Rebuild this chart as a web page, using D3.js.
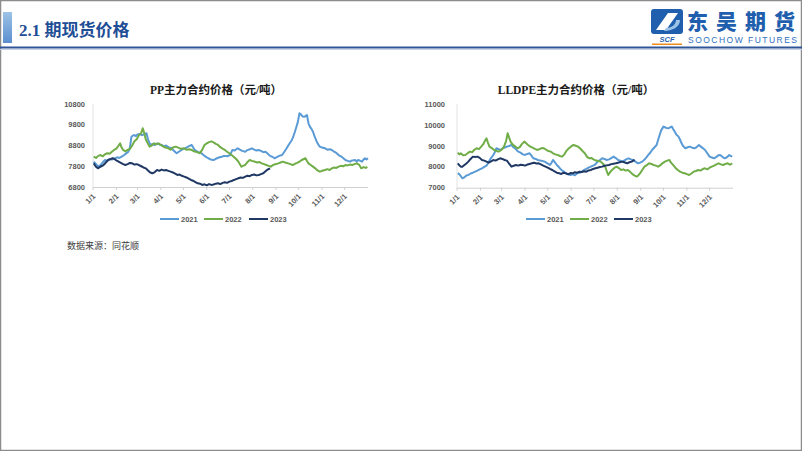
<!DOCTYPE html>
<html><head><meta charset="utf-8">
<script src="https://cdn.jsdelivr.net/npm/d3@7/dist/d3.min.js"></script>
<style>body{margin:0;background:#fff}svg{display:block}</style>
</head><body>
<svg id="c" width="802" height="451"></svg>
<script>
// ---------- data ----------
const monthStarts = [0,31,59,90,120,151,181,212,243,273,304,334];
const monthLabels = ["1/1","2/1","3/1","4/1","5/1","6/1","7/1","8/1","9/1","10/1","11/1","12/1"];
const years = ["2021","2022","2023"];
const yearColors = ["#5b9bd5","#70ad47","#203864"];
const ppTicks = [6800,7800,8800,9800,10800];
const lldpeTicks = [7000,8000,9000,10000,11000];

// [day of year, price]
const pp2021 = [[1,8020],[4,7900],[7,7780],[10,7850],[13,7990],[16,8100],[19,8060],[22,8150],[25,8120],[29,8180],[32,8230],[35,8200],[38,8260],[41,8330],[44,8420],[47,8500],[49,8700],[51,9225],[53,9280],[55,9300],[57,9250],[59,9330],[62,9350],[65,9300],[68,9340],[71,9390],[73,9100],[76,8825],[79,8870],[82,8825],[85,8900],[88,8850],[91,8825],[94,8760],[97,8800],[100,8720],[104,8665],[107,8560],[111,8425],[114,8500],[118,8600],[122,8665],[125,8720],[128,8780],[131,8825],[133,8700],[135,8585],[138,8520],[141,8460],[144,8425],[147,8330],[150,8250],[153,8185],[156,8130],[160,8100],[163,8160],[167,8220],[171,8260],[174,8300],[178,8280],[182,8340],[185,8585],[188,8560],[192,8665],[195,8600],[198,8540],[202,8500],[205,8580],[208,8620],[211,8665],[214,8600],[217,8560],[220,8585],[223,8540],[226,8480],[229,8500],[232,8400],[235,8300],[238,8260],[241,8185],[244,8240],[247,8300],[251,8340],[254,8500],[257,8665],[260,8850],[264,9065],[266,9250],[268,9465],[270,9700],[272,9950],[274,10350],[276,10300],[278,10200],[281,10190],[284,10270],[286,9870],[288,9700],[290,9600],[292,9465],[294,9250],[297,8985],[299,8850],[301,8745],[304,8700],[308,8665],[311,8600],[314,8620],[317,8585],[320,8500],[323,8440],[326,8340],[329,8280],[332,8200],[335,8100],[338,8060],[341,8020],[344,8080],[348,8100],[350,8020],[352,8100],[355,8060],[357,8020],[359,8120],[361,8185],[363,8130],[365,8185]];
const pp2022 = [[1,8260],[4,8200],[7,8300],[10,8340],[13,8280],[16,8380],[19,8425],[22,8400],[25,8500],[28,8585],[31,8650],[34,8800],[36,8905],[38,8700],[40,8585],[43,8520],[46,8585],[49,8640],[52,8800],[55,9000],[58,9100],[61,9300],[64,9400],[66,9630],[68,9400],[70,9100],[72,8950],[75,8745],[78,8800],[81,8905],[84,8860],[87,8900],[90,8825],[93,8760],[96,8700],[100,8665],[103,8600],[106,8700],[110,8745],[113,8700],[117,8640],[121,8665],[124,8600],[128,8620],[131,8585],[134,8520],[138,8480],[142,8425],[145,8600],[148,8825],[151,8900],[154,8960],[157,9000],[160,8950],[163,8880],[166,8825],[169,8720],[172,8650],[175,8585],[178,8500],[181,8425],[184,8340],[187,8250],[190,8150],[193,8020],[195,7900],[197,7780],[199,7820],[202,7860],[205,8000],[208,8100],[211,8060],[215,8020],[218,7980],[221,8000],[224,7940],[227,7900],[230,7860],[233,7820],[236,7780],[239,7860],[242,7900],[246,7940],[249,7980],[252,8020],[255,7980],[259,7940],[262,7900],[265,7860],[268,7920],[271,7960],[274,8020],[277,8100],[280,8150],[282,8185],[284,8050],[286,7940],[289,7860],[292,7780],[295,7700],[298,7600],[301,7540],[304,7580],[308,7620],[311,7660],[314,7620],[317,7700],[320,7740],[323,7720],[326,7780],[329,7820],[332,7800],[335,7860],[338,7840],[341,7880],[344,7860],[347,7900],[350,7940],[353,7880],[356,7700],[359,7760],[362,7720],[364,7780]];
const pp2023 = [[1,7940],[3,7820],[5,7740],[7,7700],[9,7760],[11,7800],[14,7860],[17,7980],[20,8100],[23,8140],[26,8185],[28,8160],[31,8080],[34,8020],[37,7960],[40,7900],[43,7860],[46,7900],[49,7960],[52,7940],[55,7880],[58,7900],[61,7860],[64,7800],[67,7740],[70,7700],[73,7600],[76,7500],[79,7460],[82,7520],[85,7620],[88,7580],[91,7640],[94,7600],[97,7620],[100,7580],[103,7540],[106,7500],[109,7440],[112,7380],[115,7400],[118,7340],[121,7300],[124,7260],[127,7200],[130,7140],[133,7100],[136,7040],[139,6980],[142,6960],[145,6900],[148,6930],[151,6880],[154,6940],[157,6900],[160,6920],[163,6960],[166,6980],[169,6940],[172,7000],[175,7030],[178,7000],[181,7060],[184,7090],[187,7140],[190,7180],[193,7220],[196,7260],[199,7240],[202,7300],[205,7340],[208,7320],[211,7380],[214,7400],[217,7360],[220,7380],[223,7420],[226,7460],[229,7560],[231,7620],[233,7660],[235,7700]];

const lldpe2021 = [[1,7700],[3,7650],[5,7560],[7,7450],[9,7480],[11,7540],[13,7600],[15,7610],[18,7680],[21,7720],[24,7770],[27,7820],[30,7880],[33,7930],[36,8000],[39,8060],[41,8170],[43,8300],[45,8420],[48,8570],[50,8700],[52,8890],[55,8850],[58,8810],[61,8900],[64,8940],[66,8970],[69,9000],[72,9050],[74,8960],[77,8890],[79,8800],[81,8730],[84,8680],[87,8600],[90,8570],[93,8620],[96,8650],[98,8560],[101,8410],[104,8380],[107,8330],[110,8300],[113,8280],[116,8250],[119,8180],[123,8090],[125,8200],[127,8330],[129,8240],[132,8090],[135,7980],[138,7850],[141,7780],[144,7690],[147,7650],[150,7610],[153,7640],[156,7600],[159,7690],[162,7720],[165,7760],[168,7850],[171,7900],[174,7960],[177,8010],[180,8060],[183,8120],[186,8250],[189,8320],[192,8410],[195,8380],[198,8330],[201,8360],[204,8420],[207,8490],[210,8420],[213,8330],[216,8300],[219,8250],[222,8320],[225,8380],[227,8410],[230,8360],[233,8330],[236,8250],[239,8170],[242,8200],[245,8250],[248,8350],[251,8480],[253,8570],[256,8700],[258,8810],[261,8930],[264,9050],[266,9300],[268,9530],[270,9750],[273,9930],[275,9900],[277,9860],[280,9850],[282,9900],[284,9930],[286,9800],[288,9690],[290,9550],[293,9450],[295,9300],[297,9130],[299,9000],[302,8890],[305,8940],[308,8970],[311,8920],[314,8890],[317,8950],[320,9050],[322,8980],[325,8900],[328,8810],[331,8650],[334,8490],[337,8450],[340,8410],[343,8480],[346,8560],[348,8570],[351,8480],[354,8410],[357,8460],[360,8570],[362,8520],[364,8490]];
const lldpe2022 = [[1,8680],[3,8600],[5,8650],[8,8560],[11,8570],[14,8650],[17,8730],[20,8700],[23,8820],[26,8890],[29,8850],[32,8970],[35,9100],[37,9250],[39,9370],[41,9150],[43,8970],[46,8900],[49,8810],[52,8760],[55,8730],[58,8800],[61,8900],[63,9050],[65,9250],[67,9610],[69,9400],[71,9200],[74,9050],[77,8980],[80,8890],[83,8950],[86,9100],[89,9210],[91,9150],[94,9050],[97,8970],[100,8920],[103,8860],[106,8810],[109,8850],[112,8900],[115,8890],[118,8820],[121,8760],[124,8730],[127,8650],[130,8600],[133,8570],[136,8520],[139,8490],[142,8600],[145,8780],[148,8890],[151,8980],[154,9050],[157,9010],[160,8970],[163,8880],[166,8760],[169,8650],[172,8480],[175,8410],[178,8420],[181,8350],[184,8300],[187,8280],[190,8250],[193,8150],[196,8010],[198,7800],[200,7610],[202,7720],[205,7850],[208,7950],[211,8010],[214,7940],[217,7850],[220,7880],[223,7820],[226,7850],[229,7760],[232,7650],[235,7580],[238,7530],[240,7600],[242,7690],[245,7850],[248,8010],[251,8080],[254,8170],[257,8140],[260,8090],[263,8060],[266,8010],[269,8080],[272,8180],[275,8250],[278,8300],[281,8330],[283,8200],[286,8080],[289,7950],[292,7850],[295,7770],[298,7720],[301,7690],[304,7650],[307,7610],[310,7680],[313,7770],[316,7800],[319,7850],[322,7820],[325,7900],[328,7930],[331,7880],[334,7960],[337,8010],[340,8060],[343,8120],[346,8170],[349,8120],[352,8090],[355,8140],[358,8170],[361,8100],[364,8170]];
const lldpe2023 = [[1,8170],[3,8080],[5,8010],[7,8000],[9,8060],[12,8150],[15,8250],[18,8380],[21,8490],[24,8470],[27,8490],[30,8430],[33,8330],[36,8300],[39,8250],[42,8200],[45,8260],[48,8330],[51,8300],[54,8360],[57,8410],[60,8380],[63,8330],[66,8300],[69,8150],[72,8010],[75,8050],[78,8090],[81,8060],[84,8100],[87,8090],[90,8060],[93,8110],[96,8140],[99,8170],[102,8200],[105,8160],[108,8170],[111,8120],[114,8060],[117,8010],[120,7960],[123,7900],[126,7850],[129,7780],[132,7720],[135,7690],[138,7660],[141,7720],[144,7690],[147,7640],[150,7700],[153,7690],[156,7740],[159,7720],[162,7770],[165,7750],[168,7790],[171,7770],[174,7830],[177,7850],[180,7900],[183,7930],[186,7960],[189,7990],[192,8010],[195,8050],[198,8070],[201,8090],[204,8130],[207,8150],[210,8170],[213,8200],[216,8230],[219,8250],[222,8210],[225,8170],[228,8220],[231,8250],[233,8300],[235,8330]];

// ---------- drawing ----------
const svg = d3.select("#c");
const CJK = "'Liberation Serif','Noto Sans CJK SC',serif";
const SANS = "'Liberation Sans','Noto Sans CJK SC',sans-serif";

// page frame
svg.append("rect").attr("x",0.5).attr("y",0.5).attr("width",801).attr("height",450)
  .attr("fill","#fff").attr("stroke","#8c8c8c").attr("stroke-width",1.5);

// header
const defs = svg.append("defs");
const gr = defs.append("linearGradient").attr("id","bar").attr("x1",0).attr("x2",0).attr("y1",0).attr("y2",1);
gr.append("stop").attr("offset","0%").attr("stop-color","#9dc3e6");
gr.append("stop").attr("offset","100%").attr("stop-color","#5b8fcf");
svg.append("rect").attr("x",3).attr("y",12).attr("width",9).attr("height",31).attr("fill","url(#bar)");
svg.append("text").attr("x",19).attr("y",36).attr("font-family",CJK).attr("font-weight","bold")
  .attr("font-size",17).attr("fill","#1f4e96").text("2.1 期现货价格");
svg.append("line").attr("x1",0).attr("x2",802).attr("y1",47.5).attr("y2",47.5).attr("stroke","#2f5597").attr("stroke-width",2.2);
svg.append("line").attr("x1",0).attr("x2",802).attr("y1",49.5).attr("y2",49.5).attr("stroke","#c9d3e3").attr("stroke-width",1);

// logo
const lg = svg.append("g");
lg.append("rect").attr("x",651).attr("y",9).attr("width",32).attr("height",25).attr("rx",3).attr("fill","#1f5fae");
lg.append("path").attr("d","M656,30 L668,13 L678,13 L666,30 Z").attr("fill","#fff");
lg.append("path").attr("d","M664,31 C672,31 680,27 680,20 L676,20 C676,25 671,28 666,28 Z").attr("fill","#9dc3e6");
lg.append("text").attr("x",667).attr("y",42).attr("text-anchor","middle").attr("font-family",SANS)
  .attr("font-weight","bold").attr("font-style","italic").attr("font-size",7.5).attr("fill","#1f5fae").text("SCF");
lg.append("rect").attr("x",652).attr("y",43.5).attr("width",30).attr("height",1.5).attr("fill","#f08c1e");
lg.append("text").attr("x",687).attr("y",28.5).attr("font-family","'Noto Sans CJK SC',sans-serif")
  .attr("font-weight","900").attr("font-size",21).attr("fill","#1f5fae").attr("textLength",108).text("东吴期货");
lg.append("text").attr("x",688).attr("y",43).attr("font-family",SANS)
  .attr("font-size",8.5).attr("fill","#2f6fbf").attr("textLength",109).text("SOOCHOW FUTURES");

function chart(cfg){
  const g = svg.append("g");
  const x = d3.scaleLinear().domain([0,365]).range([cfg.x0,cfg.x1]);
  const y = d3.scaleLinear().domain([cfg.ticks[0],cfg.ticks[cfg.ticks.length-1]]).range([cfg.yb,cfg.yt]);

  g.append("text").attr("x",cfg.tx).attr("y",94).attr("text-anchor","middle")
    .attr("font-family",CJK).attr("font-weight","bold").attr("font-size",11.5).attr("fill","#1a1a1a").text(cfg.title);

  // axes
  g.append("line").attr("x1",cfg.x0).attr("x2",cfg.x0).attr("y1",cfg.yt).attr("y2",cfg.yb).attr("stroke","#e3e3e3");
  g.append("line").attr("x1",cfg.x0).attr("x2",cfg.x1).attr("y1",cfg.yb+0.5).attr("y2",cfg.yb+0.5).attr("stroke","#d0d0d0");
  g.selectAll(".mt").data(monthStarts).join("line")
    .attr("x1",d=>x(d)).attr("x2",d=>x(d)).attr("y1",cfg.yb).attr("y2",cfg.yb+3).attr("stroke","#d0d0d0");

  g.selectAll(".yl").data(cfg.ticks).join("text")
    .attr("x",cfg.x0-cfg.lab).attr("y",d=>y(d)).attr("dy","0.35em").attr("text-anchor","end")
    .attr("font-family",SANS).attr("font-weight","bold").attr("font-size",7.5).attr("fill","#595959").text(d=>d);

  g.selectAll(".xl").data(monthStarts).join("text")
    .attr("transform",(d)=>`translate(${x(d)+1},${cfg.yb+8}) rotate(-45)`)
    .attr("text-anchor","end").attr("dy","0.35em")
    .attr("font-family",SANS).attr("font-weight","bold").attr("font-size",7.5).attr("fill","#595959")
    .text((d,i)=>monthLabels[i]);

  const line = d3.line().x(d=>x(d[0])).y(d=>y(d[1]));
  cfg.series.forEach((s,i)=>{
    g.append("path").datum(s).attr("d",line).attr("fill","none")
      .attr("stroke",yearColors[i]).attr("stroke-width",2).attr("stroke-linejoin","round");
  });

  // legend
  const lx = cfg.legX;
  years.forEach((yr,i)=>{
    g.append("line").attr("x1",lx[i]).attr("x2",lx[i]+19).attr("y1",219).attr("y2",219)
      .attr("stroke",yearColors[i]).attr("stroke-width",2);
    g.append("text").attr("x",lx[i]+21).attr("y",219).attr("dy","0.35em")
      .attr("font-family",SANS).attr("font-weight","bold").attr("font-size",7.5).attr("fill","#595959").text(yr);
  });
}

chart({title:"PP主力合约价格（元/吨）", tx:216, x0:93, x1:368, yt:104, yb:187, ticks:ppTicks, lab:8,
  series:[pp2021,pp2022,pp2023], legX:[160,204,249]});
chart({title:"LLDPE主力合约价格（元/吨）", tx:576, x0:457, x1:733, yt:104.3, yb:187.7, ticks:lldpeTicks, lab:12,
  series:[lldpe2021,lldpe2022,lldpe2023], legX:[526,570,614]});

svg.append("text").attr("x",67).attr("y",249).attr("font-family","'Noto Sans CJK SC',sans-serif")
  .attr("font-size",9).attr("fill","#404040").text("数据来源：同花顺");
</script>
</body></html>
